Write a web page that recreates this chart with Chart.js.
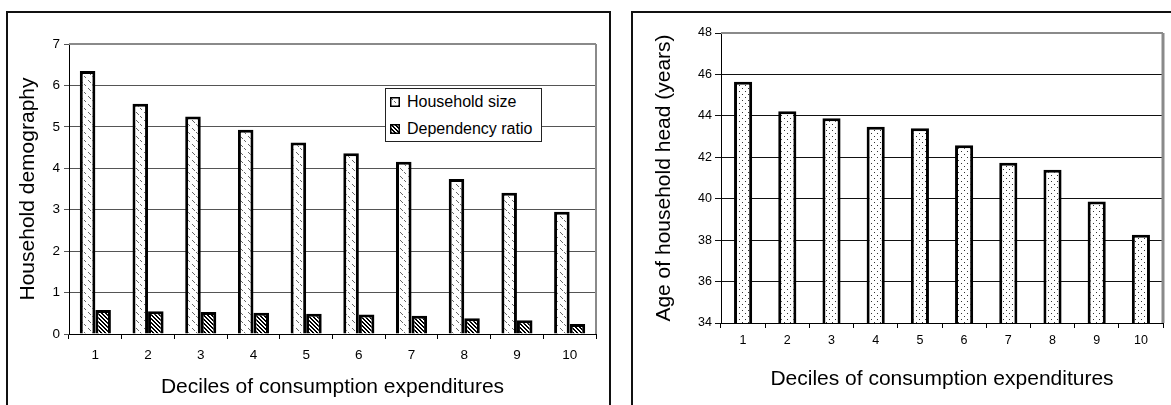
<!DOCTYPE html>
<html>
<head>
<meta charset="utf-8">
<script src="https://cdn.jsdelivr.net/npm/chart.js@4/dist/chart.umd.min.js"></script>
<style>
  html, body { margin: 0; padding: 0; background: #fff; }
  body { width: 1171px; height: 405px; position: relative; overflow: hidden;
         font-family: "Liberation Sans", Arial, sans-serif; color: #000; }
  .panel { position: absolute; border: 2px solid #111; border-bottom: none; box-sizing: border-box; }
  #panelLeft  { left: 6px;   top: 11px; width: 605px; height: 400px; }
  #panelRight { left: 631px; top: 11px; width: 560px; height: 400px; }
  canvas { position: absolute; top: 0; }
  #demoChart { left: 0; }
  #ageChart  { left: 612px; }
  #legend { position: absolute; left: 385px; top: 88px; width: 157px; height: 54px;
            box-sizing: border-box; border: 1px solid #222; background: #fff; font-size: 16px; }
  .item { position: absolute; left: 4px; height: 18px; line-height: 18px; white-space: nowrap; }
  .item canvas { position: absolute; left: 0; top: 4px; }
  .item span { position: absolute; left: 17px; top: 0; }
</style>
</head>
<body>
<div class="panel" id="panelLeft"></div>
<div class="panel" id="panelRight"></div>
<canvas id="demoChart" width="612" height="405"></canvas>
<canvas id="ageChart" width="559" height="405"></canvas>
<div id="legend">
  <div class="item" style="top:4px"><canvas id="swHH" width="10" height="10"></canvas><span>Household size</span></div>
  <div class="item" style="top:31px"><canvas id="swDep" width="10" height="10"></canvas><span>Dependency ratio</span></div>
</div>
<script>
// Expenditure deciles (x categories)
const deciles = ['1', '2', '3', '4', '5', '6', '7', '8', '9', '10'];

// Household demography by decile
const householdSize   = [6.35, 5.56, 5.25, 4.93, 4.62, 4.36, 4.16, 3.74, 3.41, 2.95];
const dependencyRatio = [0.58, 0.55, 0.53, 0.51, 0.49, 0.47, 0.44, 0.38, 0.33, 0.24];

// Average age of the household head by decile (years)
const headAge = [45.65, 44.22, 43.88, 43.48, 43.40, 42.58, 41.74, 41.40, 39.86, 38.26];

// Axis ranges / tick steps
const demoTicks = { min: 0, max: 7, step: 1 };
const ageTicks  = { min: 34, max: 48, step: 2 };

const FONT = '"Liberation Sans", Arial, sans-serif';

// ---- fill patterns -------------------------------------------------------
function tile(w, h, paint) {
  const c = document.createElement('canvas');
  c.width = w; c.height = h;
  const g = c.getContext('2d');
  g.fillStyle = '#fff';
  g.fillRect(0, 0, w, h);
  paint(g);
  return c;
}
// dashed diagonal hatch (household size)
const hhTile = tile(8, 8, g => {
  g.fillStyle = '#666';
  [[0,0],[1,1],[2,2],[4,4],[5,5]].forEach(([x, y]) => g.fillRect(x, y, 1, 1));
});
// dense black diagonal stripes (dependency ratio)
const depTile = tile(4, 4, g => {
  g.fillStyle = '#000';
  for (let y = 0; y < 4; y++) for (let x = 0; x < 4; x++) {
    const d = ((x - y) % 4 + 4) % 4;
    if (d === 0 || d === 1) g.fillRect(x, y, 1, 1);
  }
});
// light dot screen (age of head)
const dotTile = tile(6, 6, g => {
  g.fillStyle = '#333';
  g.fillRect(1, 1, 1, 1);
  g.fillRect(4, 4, 1, 1);
});
function pat(canvasId, t) {
  return document.getElementById(canvasId).getContext('2d').createPattern(t, 'repeat');
}

// legend swatches
function swatch(id, t) {
  const g = document.getElementById(id).getContext('2d');
  g.fillStyle = g.createPattern(t, 'repeat');
  g.fillRect(0, 0, 10, 10);
  g.strokeStyle = '#000';
  g.lineWidth = 1.5;
  g.strokeRect(0.75, 0.75, 8.5, 8.5);
}
swatch('swHH', hhTile);
swatch('swDep', depTile);

// grey frame on the top and right of the plot area
const plotFrame = {
  id: 'plotFrame',
  beforeDatasetsDraw(chart, args, opts) {
    const { ctx, chartArea: a } = chart;
    ctx.save();
    ctx.strokeStyle = opts.color || '#888';
    ctx.lineWidth = opts.top || 2;
    ctx.beginPath();
    ctx.moveTo(a.left, a.top);
    ctx.lineTo(a.right, a.top);
    ctx.stroke();
    ctx.lineWidth = opts.right || 2;
    ctx.beginPath();
    ctx.moveTo(a.right, a.top);
    ctx.lineTo(a.right, a.bottom);
    ctx.stroke();
    ctx.restore();
  }
};

Chart.defaults.font.family = FONT;
Chart.defaults.color = '#000';

// ---- left chart: household demography -----------------------------------
new Chart(document.getElementById('demoChart'), {
  type: 'bar',
  data: {
    labels: deciles,
    datasets: [
      { label: 'Household size', data: householdSize,
        backgroundColor: pat('demoChart', hhTile), borderColor: '#000', borderWidth: 3 },
      { label: 'Dependency ratio', data: dependencyRatio,
        backgroundColor: pat('demoChart', depTile), borderColor: '#000', borderWidth: 3 }
    ]
  },
  options: {
    responsive: false,
    animation: false,
    devicePixelRatio: 1,
    layout: { padding: { top: 44, right: 16, bottom: 0, left: 10 } },
    datasets: { bar: { barPercentage: 1, categoryPercentage: 0.59 } },
    plugins: {
      legend: { display: false },
      tooltip: { enabled: false },
      plotFrame: { color: '#8a8a8a', top: 2, right: 2 }
    },
    scales: {
      x: {
        offset: true,
        grid: { offset: true, drawOnChartArea: false, drawTicks: true, tickLength: 5, color: '#000' },
        border: { color: '#000', width: 1 },
        ticks: { font: { size: 13.5 }, padding: 8, color: '#000' },
        title: { display: true, text: 'Deciles of consumption expenditures',
                 font: { size: 21 }, color: '#000', padding: { top: 0, bottom: 5 } },
        afterFit(s) { s.height = 71; }
      },
      y: {
        min: demoTicks.min, max: demoTicks.max,
        grid: { color: '#555', lineWidth: 1, tickLength: 5, drawTicks: true },
        border: { color: '#000', width: 1 },
        ticks: { stepSize: demoTicks.step, font: { size: 13.5 }, padding: 4, color: '#000' },
        title: { display: true, text: 'Household demography',
                 font: { size: 21 }, color: '#000', padding: { top: 6, bottom: 0 } },
        afterFit(s) { s.width = 59; }
      }
    }
  },
  plugins: [plotFrame]
});

// ---- right chart: age of household head ---------------------------------
new Chart(document.getElementById('ageChart'), {
  type: 'bar',
  data: {
    labels: deciles,
    datasets: [
      { label: 'Age of household head', data: headAge,
        backgroundColor: pat('ageChart', dotTile), borderColor: '#000', borderWidth: 3 }
    ]
  },
  options: {
    responsive: false,
    animation: false,
    devicePixelRatio: 1,
    layout: { padding: { top: 33, right: 8, bottom: 0, left: 34 } },
    datasets: { bar: { barPercentage: 1, categoryPercentage: 0.41 } },
    plugins: {
      legend: { display: false },
      tooltip: { enabled: false },
      plotFrame: { color: '#8a8a8a', top: 2, right: 3 }
    },
    scales: {
      x: {
        offset: true,
        grid: { offset: true, drawOnChartArea: false, drawTicks: true, tickLength: 5, color: '#000' },
        border: { color: '#000', width: 1 },
        ticks: { font: { size: 12.5 }, padding: 5, color: '#000' },
        title: { display: true, text: 'Deciles of consumption expenditures',
                 font: { size: 21 }, color: '#000', padding: { top: 0, bottom: 13 } },
        afterFit(s) { s.height = 82; }
      },
      y: {
        min: ageTicks.min, max: ageTicks.max,
        grid: { color: '#111', lineWidth: 1, tickLength: 6, drawTicks: true },
        border: { color: '#000', width: 1 },
        ticks: { stepSize: ageTicks.step, font: { size: 12.5 }, padding: 3, color: '#000' },
        title: { display: true, text: 'Age of household head (years)',
                 font: { size: 21 }, color: '#000', padding: { top: 6, bottom: 0 } },
        afterFit(s) { s.width = 75; }
      }
    }
  },
  plugins: [plotFrame]
});
</script>
</body>
</html>
